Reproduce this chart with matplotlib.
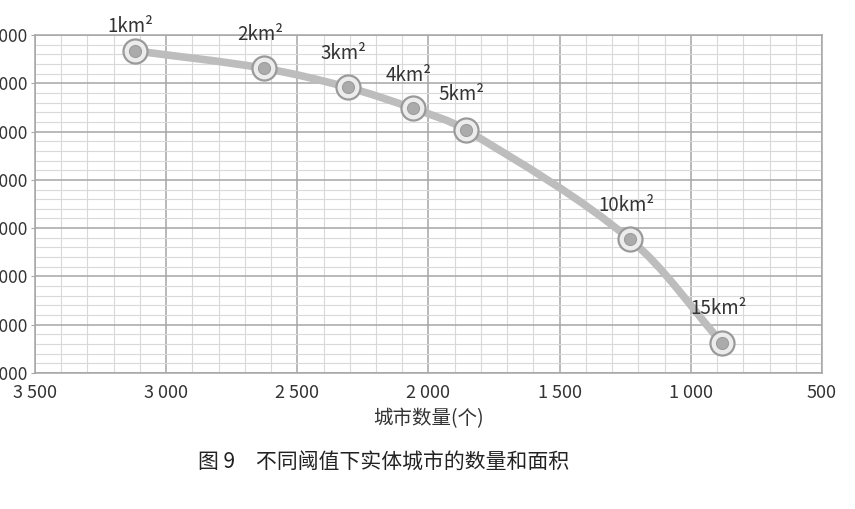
import matplotlib
matplotlib.use("Agg")
import matplotlib.pyplot as plt
from matplotlib.path import Path
from matplotlib.patches import PathPatch
from matplotlib.ticker import MultipleLocator, FuncFormatter

plt.rcParams['font.family'] = ['Noto Sans CJK SC', 'DejaVu Sans']

# 数据
labels = ['1km²', '2km²', '3km²', '4km²', '5km²', '10km²', '15km²']
city_count = [3120, 2626, 2308, 2060, 1858, 1232, 880]
city_area = [7674, 7310, 6916, 6481, 6038, 3769, 1615]
label_dy = [-24, -34, -34, -33, -35, -34, -35]

fig = plt.figure(figsize=(8.55, 5.09), dpi=100)
ax = fig.add_axes([0.0409, 0.2672, 0.9205, 0.664])

ax.set_xlim(3500, 500)
ax.set_ylim(1000, 8000)
ax.xaxis.set_major_locator(MultipleLocator(500))
ax.xaxis.set_minor_locator(MultipleLocator(100))
ax.yaxis.set_major_locator(MultipleLocator(1000))
ax.yaxis.set_minor_locator(MultipleLocator(200))

fmt = FuncFormatter(lambda v, p: "{:,}".format(int(v)).replace(",", " "))
ax.xaxis.set_major_formatter(fmt)
ax.yaxis.set_major_formatter(fmt)

ax.grid(which='major', color='#a6a6a6', linewidth=1.1)
ax.grid(which='minor', color='#d9d9d9', linewidth=0.8)
ax.set_axisbelow(True)
for s in ax.spines.values():
    s.set_color('#a6a6a6')
    s.set_linewidth(1.1)

ax.tick_params(axis='x', which='both', length=0, pad=8, labelsize=13, labelcolor='#333333')
ax.tick_params(axis='y', which='major', length=3, color='#a6a6a6', pad=2.5,
               labelsize=12.5, labelcolor='#333333')
ax.tick_params(axis='y', which='minor', length=0)

# 平滑曲线: 按屏幕弦长参数化的 Catmull-Rom -> Bezier
fig.canvas.draw()
pix = ax.transData.transform(list(zip(city_count, city_area)))
n = len(pix)
d = [((pix[i + 1][0] - pix[i][0]) ** 2 + (pix[i + 1][1] - pix[i][1]) ** 2) ** 0.5
     for i in range(n - 1)]
tang = []
for i in range(n):
    if i == 0:
        tang.append((pix[1] - pix[0]) / d[0])
    elif i == n - 1:
        tang.append((pix[-1] - pix[-2]) / d[-1])
    else:
        tang.append((pix[i + 1] - pix[i - 1]) / (d[i - 1] + d[i]))
verts = [pix[0]]
codes = [Path.MOVETO]
for i in range(n - 1):
    c1 = pix[i] + tang[i] * d[i] / 3
    c2 = pix[i + 1] - tang[i + 1] * d[i] / 3
    verts += [c1, c2, pix[i + 1]]
    codes += [Path.CURVE4] * 3
inv = ax.transData.inverted()
verts = inv.transform(verts)
ax.add_patch(PathPatch(Path(verts, codes), facecolor='none', edgecolor='#bdbdbd',
                       linewidth=5.5, capstyle='round', zorder=3))

ax.scatter(city_count, city_area, s=300, facecolor='#ececec', edgecolor='#9a9a9a',
           linewidth=1.6, zorder=4)
ax.scatter(city_count, city_area, s=75, facecolor='#ababab', edgecolor='#9c9c9c',
           linewidth=0.8, zorder=5)

for lab, x, y, dy in zip(labels, city_count, city_area, label_dy):
    ax.annotate(lab, (x, y), xytext=(-4, -dy), textcoords='offset pixels',
                ha='center', va='center', fontsize=13.5, color='#333333', zorder=6)

ax.set_xlabel('城市数量(个)', fontsize=14, color='#333333', labelpad=4)

fig.text(0.449, 1 - 463 / 509, '图 9\u2003不同阈值下实体城市的数量和面积',
         ha='center', va='center', fontsize=15, color='#222222')

fig.savefig('out.png', dpi=100, facecolor='white')
